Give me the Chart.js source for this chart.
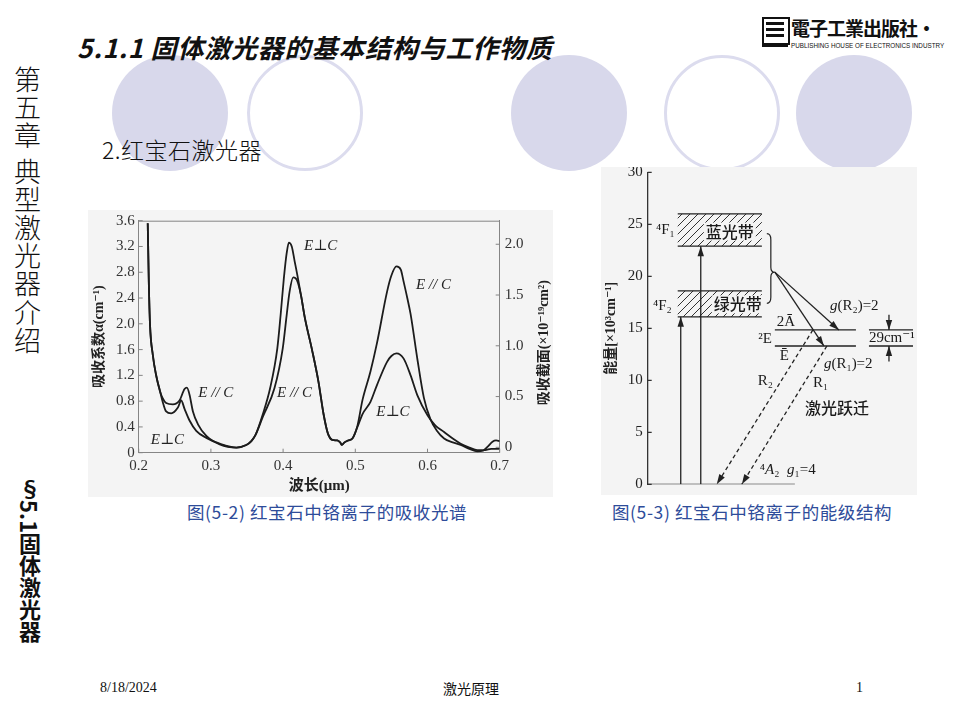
<!DOCTYPE html>
<html>
<head>
<meta charset="utf-8">
<script src="https://cdn.jsdelivr.net/npm/chart.js@4.4.1/dist/chart.umd.min.js"></script>
<style>
body { margin: 0; background: #fff; }
#slide { position: relative; width: 960px; height: 720px; overflow: hidden; font-family: "Noto Sans CJK SC", sans-serif; color: #111; }
.circ { position: absolute; top: 55px; width: 116px; height: 116px; border-radius: 50%; box-sizing: border-box; }
.fill { background: #d8d8eb; }
.ring { border: 3px solid #dcdcee; }
.abs { position: absolute; white-space: nowrap; }
.pic { position: absolute; background: #f4f4f4; }
canvas { position: absolute; }
</style>
</head>
<body>
<div id="slide">
  <div class="circ fill" style="left:112px"></div>
  <div class="circ ring" style="left:247px"></div>
  <div class="circ fill" style="left:511px"></div>
  <div class="circ ring" style="left:664px"></div>
  <div class="circ fill" style="left:796px"></div>

  <div class="abs" style="left:77px;top:28px;font-size:26px;letter-spacing:0.8px;font-style:italic;font-weight:bold;">5.1.1 固体激光器的基本结构与工作物质</div>

  <!-- publisher logo -->
  <div class="abs" style="left:762px;top:17px;width:24px;height:24px;border:2px solid #111;background:#fff;"></div>
  <div class="abs" style="left:766px;top:22px;width:18px;height:3px;background:#111;"></div>
  <div class="abs" style="left:766px;top:28px;width:18px;height:3px;background:#111;"></div>
  <div class="abs" style="left:766px;top:34px;width:18px;height:3px;background:#111;"></div>
  <div class="abs" style="left:762px;top:44px;width:26px;height:3px;background:#111;"></div>
  <div class="abs" style="left:791px;top:14px;font-size:19px;font-family:'Noto Sans CJK TC';font-weight:bold;letter-spacing:-1px;">電子工業出版社·</div>
  <div class="abs" style="left:791px;top:42px;font-size:6.3px;font-family:'Liberation Sans';">PUBLISHING HOUSE OF ELECTRONICS INDUSTRY</div>

  <div class="abs" style="left:8px;top:66px;writing-mode:vertical-rl;font-size:27px;letter-spacing:1.2px;font-weight:300;">第五章 典型激光器介绍</div>
  <div class="abs" style="left:14px;top:478px;writing-mode:vertical-rl;font-size:22px;font-weight:bold;">§5.1固体激光器</div>

  <div class="abs" style="left:102px;top:132px;font-size:23px;letter-spacing:0.5px;font-weight:300;">2.红宝石激光器</div>

  <div class="pic" style="left:88px;top:210px;width:465px;height:287px;"></div>
  <canvas id="spec" width="465" height="287" style="left:88px;top:210px;"></canvas>

  <div class="pic" style="left:601px;top:167px;width:316px;height:328px;"></div>
  <canvas id="levels" width="316" height="328" style="left:601px;top:167px;"></canvas>

  <div class="abs" style="left:187px;top:499px;font-size:17.5px;letter-spacing:0.6px;color:#2e4c9a;">图(5-2) 红宝石中铬离子的吸收光谱</div>
  <div class="abs" style="left:612px;top:499px;font-size:17.5px;letter-spacing:0.6px;color:#2e4c9a;">图(5-3) 红宝石中铬离子的能级结构</div>

  <div class="abs" style="left:100px;top:680px;font-size:14px;font-family:'Liberation Serif';">8/18/2024</div>
  <div class="abs" style="left:443px;top:678px;font-size:14px;">激光原理</div>
  <div class="abs" style="left:856px;top:680px;font-size:14px;font-family:'Liberation Serif';">1</div>
</div>

<script>
// ---- absorption spectrum ----
var wlPerp = [0.2125, 0.214, 0.2157, 0.2195, 0.224, 0.2296, 0.233, 0.238, 0.245, 0.2543, 0.2589, 0.2635, 0.2704, 0.2797, 0.2937, 0.3122, 0.3354, 0.349, 0.356, 0.362, 0.372, 0.382, 0.392, 0.3966, 0.401, 0.405, 0.408, 0.412, 0.416, 0.42, 0.425, 0.43, 0.44, 0.449, 0.456, 0.462, 0.468, 0.475, 0.479, 0.4815, 0.485, 0.49, 0.496, 0.503, 0.51, 0.521, 0.53, 0.544, 0.55, 0.557, 0.567, 0.5766, 0.586, 0.60, 0.611, 0.623, 0.635, 0.646, 0.658, 0.669, 0.68, 0.688, 0.70];
var absPerp = [3.56, 2.65, 1.98, 1.52, 1.21, 0.95, 0.80, 0.64, 0.61, 0.70, 0.81, 0.68, 0.50, 0.34, 0.23, 0.14, 0.08, 0.12, 0.18, 0.28, 0.60, 1.00, 1.62, 2.14, 2.70, 3.10, 3.26, 3.20, 2.97, 2.74, 2.43, 2.10, 1.60, 1.10, 0.60, 0.30, 0.20, 0.19, 0.16, 0.12, 0.16, 0.19, 0.22, 0.40, 0.60, 0.79, 1.05, 1.41, 1.50, 1.54, 1.46, 1.20, 0.89, 0.58, 0.42, 0.32, 0.22, 0.14, 0.08, 0.04, 0.04, 0.06, 0.06];
var wlPara = [0.2125, 0.214, 0.2157, 0.2195, 0.224, 0.2296, 0.233, 0.238, 0.2473, 0.2565, 0.2635, 0.2668, 0.2704, 0.2751, 0.2821, 0.2937, 0.3122, 0.3354, 0.349, 0.356, 0.362, 0.372, 0.388, 0.3995, 0.405, 0.409, 0.414, 0.419, 0.425, 0.43, 0.44, 0.449, 0.456, 0.462, 0.468, 0.475, 0.479, 0.4815, 0.485, 0.49, 0.496, 0.503, 0.51, 0.521, 0.53, 0.544, 0.55, 0.557, 0.563, 0.567, 0.572, 0.5766, 0.586, 0.595, 0.604, 0.613, 0.623, 0.635, 0.646, 0.658, 0.669, 0.677, 0.683, 0.69, 0.695, 0.70];
var absPara = [3.56, 2.65, 1.98, 1.52, 1.21, 0.95, 0.85, 0.77, 0.75, 0.81, 0.99, 1.01, 0.90, 0.64, 0.44, 0.26, 0.13, 0.08, 0.12, 0.18, 0.28, 0.56, 1.00, 1.62, 2.14, 2.50, 2.72, 2.68, 2.43, 2.10, 1.60, 1.10, 0.60, 0.30, 0.20, 0.19, 0.16, 0.12, 0.16, 0.19, 0.22, 0.42, 0.82, 1.26, 1.70, 2.50, 2.75, 2.89, 2.84, 2.65, 2.40, 2.15, 1.45, 0.85, 0.52, 0.34, 0.22, 0.16, 0.12, 0.06, 0.02, 0.03, 0.09, 0.17, 0.19, 0.18];
var wlTicks = [0.2, 0.3, 0.4, 0.5, 0.6, 0.7];
var alphaTicks = [0, 0.4, 0.8, 1.2, 1.6, 2.0, 2.4, 2.8, 3.2, 3.6];
var sigmaTicks = [0, 0.5, 1.0, 1.5, 2.0];
// curve labels: text, wavelength, alpha
var curveTags = [
    ['E⊥C', 0.429, 3.2], ['E // C', 0.584, 2.6], ['E // C', 0.2826, 0.93],
    ['E // C', 0.3916, 0.93], ['E⊥C', 0.529, 0.63], ['E⊥C', 0.2167, 0.2]
];

// ---- energy levels of Cr3+ in ruby (x10^3 cm^-1) ----
var energyTicks = [0, 5, 10, 15, 20, 25, 30];
var bandF1 = [22.9, 26.0];   // 4F1 blue band
var bandF2 = [16.1, 18.6];   // 4F2 green band
var levelE = [13.3, 14.84];  // E-bar, 2A-bar (splitting drawn enlarged)
var braceTop = 24.1, braceBottom = 17.4, braceTip = 20.4;

var serif = "'Liberation Serif', 'DejaVu Serif', 'Noto Sans CJK SC'";
var frameGray = '#858585';

function fixTicks(list) {
    return function (s) { s.ticks = list.map(function (v) { return { value: v }; }); };
}
function fmt1(v) { return v === 0 ? '0' : v.toFixed(1); }
function pts(xs, ys) { return xs.map(function (x, i) { return { x: x, y: ys[i] }; }); }

// inward tick marks, top border, right-hand title and curve labels
var specFrame = {
    id: 'specFrame',
    afterDraw: function (chart) {
        var ctx = chart.ctx, a = chart.chartArea, sc = chart.scales;
        ctx.save();
        ctx.strokeStyle = frameGray;
        ctx.lineWidth = 1;
        ctx.beginPath();
        ctx.moveTo(a.left, a.top + 0.5); ctx.lineTo(a.right, a.top + 0.5);
        sc.x.ticks.forEach(function (t) {
            var px = sc.x.getPixelForValue(t.value);
            ctx.moveTo(px, a.bottom); ctx.lineTo(px, a.bottom - 4);
        });
        sc.y.ticks.forEach(function (t) {
            var py = sc.y.getPixelForValue(t.value);
            ctx.moveTo(a.left, py); ctx.lineTo(a.left + 4, py);
        });
        sc.y1.ticks.forEach(function (t) {
            var py = sc.y1.getPixelForValue(t.value);
            ctx.moveTo(a.right, py); ctx.lineTo(a.right - 4, py);
        });
        ctx.stroke();

        ctx.save();
        ctx.translate(sc.y1.right - 9, (a.top + a.bottom) / 2 + 6);
        ctx.rotate(-Math.PI / 2);
        ctx.fillStyle = '#222';
        ctx.font = 'bold 14px ' + serif;
        ctx.textAlign = 'center';
        ctx.textBaseline = 'middle';
        ctx.fillText('吸收截面(×10⁻¹⁹cm²)', 0, 0);
        ctx.restore();

        ctx.fillStyle = '#222';
        ctx.font = 'italic 15px ' + serif;
        ctx.textBaseline = 'middle';
        curveTags.forEach(function (t) {
            ctx.fillText(t[0], sc.x.getPixelForValue(t[1]), sc.y.getPixelForValue(t[2]));
        });
        ctx.restore();
    }
};

var spectrum = new Chart(document.getElementById('spec'), {
    type: 'line',
    data: {
        datasets: [
            { label: 'E⊥C', data: pts(wlPerp, absPerp) },
            { label: 'E∥C', data: pts(wlPara, absPara) }
        ]
    },
    options: {
        responsive: false,
        animation: false,
        layout: { padding: { top: 10.7 } },
        plugins: { legend: { display: false }, tooltip: { enabled: false } },
        elements: {
            point: { radius: 0 },
            line: { borderColor: '#1c1c1c', borderWidth: 1.8, tension: 0.4, cubicInterpolationMode: 'monotone' }
        },
        scales: {
            x: {
                type: 'linear', min: 0.2, max: 0.7,
                afterBuildTicks: fixTicks(wlTicks),
                afterFit: function (s) { s.height = 44.3; s.paddingLeft = 0; s.paddingRight = 0; },
                grid: { display: false, drawTicks: false },
                border: { color: frameGray },
                ticks: { padding: 4, color: '#333', font: { family: serif, size: 15 }, callback: function (v) { return v.toFixed(1); } },
                title: { display: true, text: '波长(μm)', color: '#222', padding: { top: 0, bottom: 2 }, font: { family: serif, size: 15, weight: 'bold' } }
            },
            y: {
                min: 0, max: 3.6,
                afterBuildTicks: fixTicks(alphaTicks),
                afterFit: function (s) { s.width = 50.7; s.paddingTop = 0; s.paddingBottom = 0; },
                grid: { display: false, drawTicks: false },
                border: { color: frameGray },
                ticks: { padding: 4, color: '#333', font: { family: serif, size: 15 }, callback: fmt1 },
                title: { display: true, text: '吸收系数α(cm⁻¹)', color: '#222', padding: { top: 3, bottom: 0 }, font: { family: serif, size: 14, weight: 'bold' } }
            },
            y1: {
                position: 'right', min: -0.053, max: 2.232,
                afterBuildTicks: fixTicks(sigmaTicks),
                afterFit: function (s) { s.width = 53.3; s.paddingTop = 0; s.paddingBottom = 0; },
                grid: { display: false, drawTicks: false },
                border: { color: frameGray },
                ticks: { padding: 5, color: '#333', font: { family: serif, size: 15 }, callback: fmt1 }
            }
        }
    },
    plugins: [specFrame]
});

// ---- energy level diagram ----
// horizontal extents in pixels to the right of the energy axis
var lay = {
    band: [30, 114], pumpA: 33, pumpB: 53, ground: [0, 147],
    level: [127, 208], split: [221, 265], splitArrow: 241,
    braceX: 119, tipX: 127, toA: 191, toE: 176,
    r2: [165, 69], r1: [179, 94]
};

function hatch() {
    var c = document.createElement('canvas');
    c.width = 8; c.height = 8;
    var g = c.getContext('2d');
    g.strokeStyle = '#333';
    g.lineWidth = 1;
    g.beginPath();
    g.moveTo(0, 8); g.lineTo(8, 0);
    g.moveTo(-1, 1); g.lineTo(1, -1);
    g.moveTo(7, 9); g.lineTo(9, 7);
    g.stroke();
    return c;
}

function seg(x0, y0, x1, y1, extra) {
    var d = { data: [{ x: x0, y: y0 }, { x: x1, y: y1 }], borderColor: '#222', borderWidth: 1.3 };
    for (var k in extra) d[k] = extra[k];
    return d;
}

var levelTags = [
    // parts: [text, italic]
    { parts: [['⁴F₁', 0]], x: 27, y: 24.4, align: 'right' },
    { parts: [['⁴F₂', 0]], x: 24, y: 17.1, align: 'right' },
    { parts: [['蓝光带', 0]], x: 82, y: 24.3, align: 'center', size: 16, cjk: 1, boxed: 1 },
    { parts: [['绿光带', 0]], x: 90, y: 17.3, align: 'center', size: 16, cjk: 1, boxed: 1 },
    { parts: [['g', 1], ['(R₂)=2', 0]], x: 182, y: 17.1, align: 'left' },
    { parts: [['2Ā', 0]], x: 129, y: 15.6, align: 'left' },
    { parts: [['²E', 0]], x: 124, y: 14.0, align: 'right' },
    { parts: [['Ē', 0]], x: 132, y: 12.3, align: 'left' },
    { parts: [['29cm⁻¹', 0]], x: 221, y: 14.1, align: 'left' },
    { parts: [['g', 1], ['(R₁)=2', 0]], x: 176, y: 11.6, align: 'left' },
    { parts: [['R₂', 0]], x: 110, y: 9.9, align: 'left' },
    { parts: [['R₁', 0]], x: 165, y: 9.7, align: 'left' },
    { parts: [['激光跃迁', 0]], x: 157, y: 7.3, align: 'left', size: 16, cjk: 1 },
    { parts: [['⁴', 0], ['A', 1], ['₂  ', 0], ['g', 1], ['₁=4', 0]], x: 112, y: 1.4, align: 'left' }
];

var levelArt = {
    id: 'levelArt',
    beforeDatasetsDraw: function (chart) {
        var ctx = chart.ctx, sx = chart.scales.x, sy = chart.scales.y;
        var pat = ctx.createPattern(hatch(), 'repeat');
        ctx.save();
        ctx.fillStyle = pat;
        [bandF1, bandF2].forEach(function (b) {
            var x0 = sx.getPixelForValue(lay.band[0]), x1 = sx.getPixelForValue(lay.band[1]);
            var y0 = sy.getPixelForValue(b[1]), y1 = sy.getPixelForValue(b[0]);
            ctx.fillRect(x0, y0, x1 - x0, y1 - y0);
        });
        ctx.restore();
    },
    afterDatasetsDraw: function (chart) {
        var ctx = chart.ctx, sx = chart.scales.x, sy = chart.scales.y, a = chart.chartArea;
        ctx.save();
        // arrow heads
        chart.data.datasets.forEach(function (ds, i) {
            if (!ds.arrow) return;
            var m = chart.getDatasetMeta(i).data;
            var p0 = m[0], p1 = m[1];
            var ang = Math.atan2(p1.y - p0.y, p1.x - p0.x);
            ctx.save();
            ctx.translate(p1.x, p1.y);
            ctx.rotate(ang);
            ctx.fillStyle = '#222';
            ctx.beginPath();
            ctx.moveTo(0, 0); ctx.lineTo(-10, -3.2); ctx.lineTo(-10, 3.2); ctx.closePath();
            ctx.fill();
            ctx.restore();
        });
        // brace
        var bx = sx.getPixelForValue(lay.braceX), tx = sx.getPixelForValue(lay.tipX);
        var yt = sy.getPixelForValue(braceTop), yb = sy.getPixelForValue(braceBottom), ym = sy.getPixelForValue(braceTip);
        var mx = (bx + tx) / 2;
        ctx.strokeStyle = '#222';
        ctx.lineWidth = 1.2;
        ctx.beginPath();
        ctx.moveTo(bx, yt);
        ctx.quadraticCurveTo(mx, yt, mx, yt + 6);
        ctx.lineTo(mx, ym - 5);
        ctx.quadraticCurveTo(mx, ym, tx, ym);
        ctx.quadraticCurveTo(mx, ym, mx, ym + 5);
        ctx.lineTo(mx, yb - 6);
        ctx.quadraticCurveTo(mx, yb, bx, yb);
        ctx.stroke();
        // inward ticks on the energy axis
        ctx.strokeStyle = '#333';
        ctx.beginPath();
        sy.ticks.forEach(function (t) {
            var py = sy.getPixelForValue(t.value);
            ctx.moveTo(a.left, py); ctx.lineTo(a.left + 4, py);
        });
        ctx.stroke();
        // labels
        ctx.textBaseline = 'middle';
        levelTags.forEach(function (t) {
            var size = t.size || 15;
            var fonts = t.parts.map(function (p) {
                return (p[1] ? 'italic ' : '') + (t.cjk ? '500 ' : '') + size + 'px ' + (t.cjk ? "'Noto Sans CJK SC'" : serif);
            });
            var w = 0, widths = [];
            t.parts.forEach(function (p, k) { ctx.font = fonts[k]; var ww = ctx.measureText(p[0]).width; widths.push(ww); w += ww; });
            var x = sx.getPixelForValue(t.x), y = sy.getPixelForValue(t.y);
            if (t.align === 'right') x -= w;
            if (t.align === 'center') x -= w / 2;
            if (t.boxed) { ctx.fillStyle = '#f4f4f4'; ctx.fillRect(x - 2, y - size / 2 - 1, w + 4, size + 2); }
            ctx.fillStyle = '#1a1a1a';
            t.parts.forEach(function (p, k) { ctx.font = fonts[k]; ctx.fillText(p[0], x, y); x += widths[k]; });
        });
        ctx.restore();
    }
};

var levels = new Chart(document.getElementById('levels'), {
    type: 'line',
    data: {
        datasets: [
            seg(lay.ground[0], 0, lay.ground[1], 0),
            seg(lay.band[0], bandF1[0], lay.band[1], bandF1[0]),
            seg(lay.band[0], bandF1[1], lay.band[1], bandF1[1]),
            seg(lay.band[0], bandF2[0], lay.band[1], bandF2[0]),
            seg(lay.band[0], bandF2[1], lay.band[1], bandF2[1]),
            seg(lay.level[0], levelE[0], lay.level[1], levelE[0]),
            seg(lay.level[0], levelE[1], lay.level[1], levelE[1]),
            seg(lay.split[0], levelE[0], lay.split[1], levelE[0]),
            seg(lay.split[0], levelE[1], lay.split[1], levelE[1]),
            seg(lay.pumpA, 0, lay.pumpA, bandF2[0], { arrow: true }),
            seg(lay.pumpB, 0, lay.pumpB, bandF1[0], { arrow: true }),
            seg(lay.tipX, braceTip, lay.toA, levelE[1], { arrow: true }),
            seg(lay.tipX, braceTip, lay.toE, levelE[0], { arrow: true }),
            seg(lay.r2[0], levelE[1], lay.r2[1], 0, { arrow: true, borderDash: [4, 3] }),
            seg(lay.r1[0], levelE[0], lay.r1[1], 0, { arrow: true, borderDash: [4, 3] }),
            seg(lay.splitArrow, 16.3, lay.splitArrow, levelE[1], { arrow: true }),
            seg(lay.splitArrow, 11.8, lay.splitArrow, levelE[0], { arrow: true })
        ]
    },
    options: {
        responsive: false,
        animation: false,
        layout: { padding: { top: 5.3, bottom: 10.7 } },
        plugins: { legend: { display: false }, tooltip: { enabled: false } },
        elements: { point: { radius: 0 }, line: { tension: 0 } },
        scales: {
            x: { type: 'linear', min: 0, max: 269, display: false },
            y: {
                min: 0, max: 30,
                afterBuildTicks: fixTicks(energyTicks),
                afterFit: function (s) { s.width = 46.7; s.paddingTop = 0; s.paddingBottom = 0; },
                grid: { display: false, drawTicks: false },
                border: { color: '#333', width: 1.3 },
                ticks: { padding: 5, color: '#222', font: { family: serif, size: 15 } },
                title: { display: true, text: '能量[×10³cm⁻¹]', color: '#222', padding: { top: 2, bottom: 0 }, font: { family: serif, size: 14, weight: 'bold' } }
            }
        }
    },
    plugins: [levelArt]
});
</script>
</body>
</html>
